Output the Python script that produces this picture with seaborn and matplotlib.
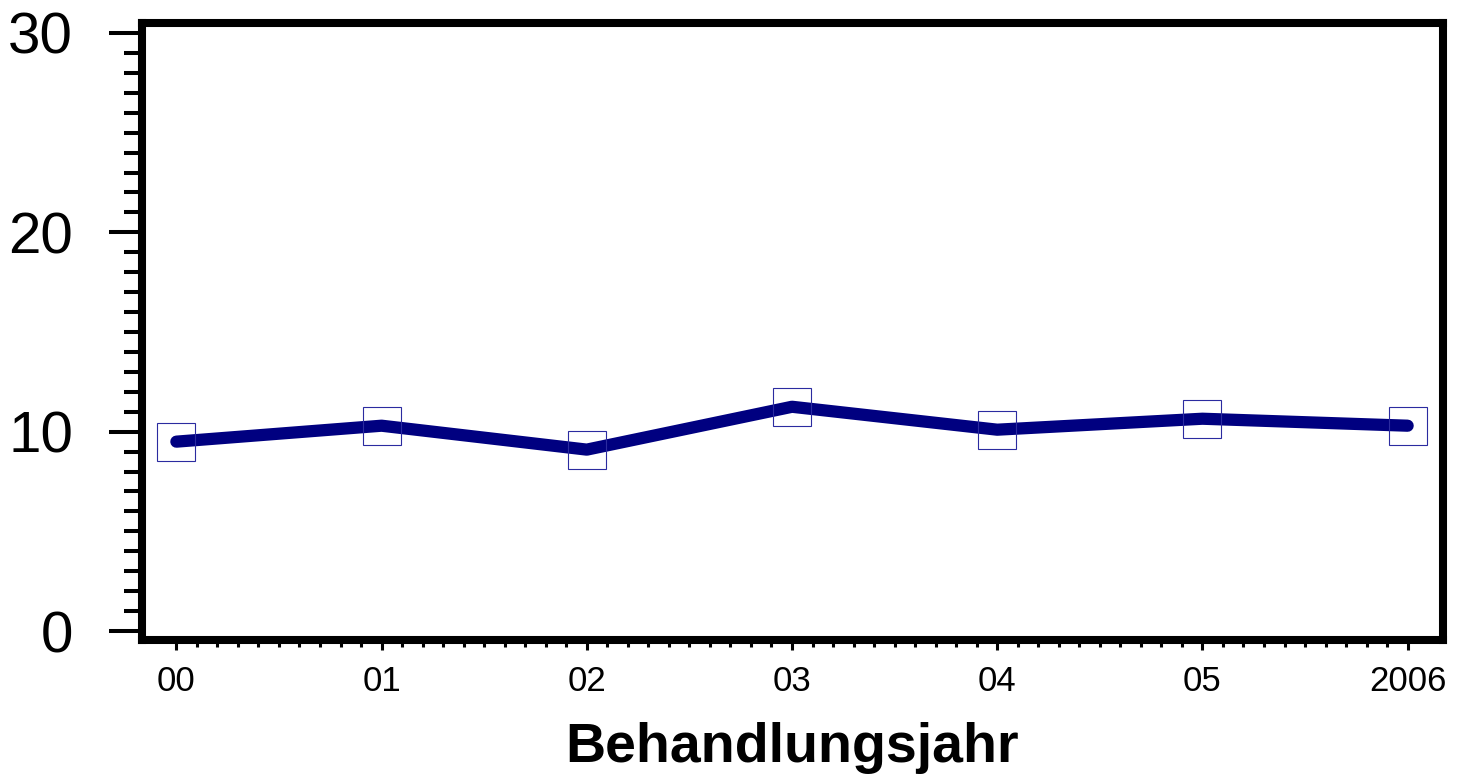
import numpy as np
import pandas as pd
import matplotlib
matplotlib.use("Agg")
import matplotlib.pyplot as plt
import seaborn as sns
from matplotlib.ticker import MultipleLocator, FixedLocator

# === Data ===
years = [0, 1, 2, 3, 4, 5, 6]
year_labels = ["00", "01", "02", "03", "04", "05", "2006"]
values = [9.5, 10.3, 9.1, 11.25, 10.1, 10.65, 10.3]

df = pd.DataFrame({"Jahr": years, "Wert": values})

sns.set_theme(style="white")
plt.rcParams['font.family'] = ['Liberation Sans', 'DejaVu Sans']
plt.rcParams['text.color'] = 'black'
plt.rcParams['axes.labelcolor'] = 'black'
plt.rcParams['xtick.color'] = 'black'
plt.rcParams['ytick.color'] = 'black'

fig = plt.figure(figsize=(14.66, 7.77), dpi=100)
ax = fig.add_axes([0.0972, 0.1763, 0.8868, 0.7941])

line_color = "#000080"

sns.lineplot(data=df, x="Jahr", y="Wert", ax=ax, color=line_color,
             linewidth=8.8, solid_capstyle='round', solid_joinstyle='round',
             zorder=3)
ax.plot(df["Jahr"], df["Wert"], linestyle='none', marker='s', markersize=27,
        markerfacecolor='none', markeredgecolor='#2b2ba0',
        markeredgewidth=0.8, zorder=4)

ax.set_xlim(-0.165, 6.17)
ax.set_ylim(-0.45, 30.5)

# === Axes frame ===
for spine in ax.spines.values():
    spine.set_visible(True)
    spine.set_color('black')
    spine.set_linewidth(5.8)

# y ticks
ax.yaxis.set_major_locator(MultipleLocator(10))
ax.yaxis.set_minor_locator(MultipleLocator(1))
ax.tick_params(axis='y', which='major', direction='out', length=24,
               width=2.9, labelsize=42, pad=26, colors='black', left=True)
ax.tick_params(axis='y', which='minor', direction='out', length=13,
               width=2.9, left=True)

# x ticks
ax.xaxis.set_major_locator(FixedLocator(years))
ax.xaxis.set_minor_locator(FixedLocator(np.arange(0, 6.01, 0.1)))
ax.set_xticklabels(year_labels)
ax.tick_params(axis='x', which='major', direction='out', length=7,
               width=2.2, labelsize=25, pad=11, colors='black', bottom=True)
ax.tick_params(axis='x', which='minor', direction='out', length=5,
               width=2.2, bottom=True)

ax.set_ylabel("")
ax.set_xlabel("Behandlungsjahr", fontsize=40, fontweight='bold',
              color='black', labelpad=17)

fig.savefig("out.png", dpi=100)
